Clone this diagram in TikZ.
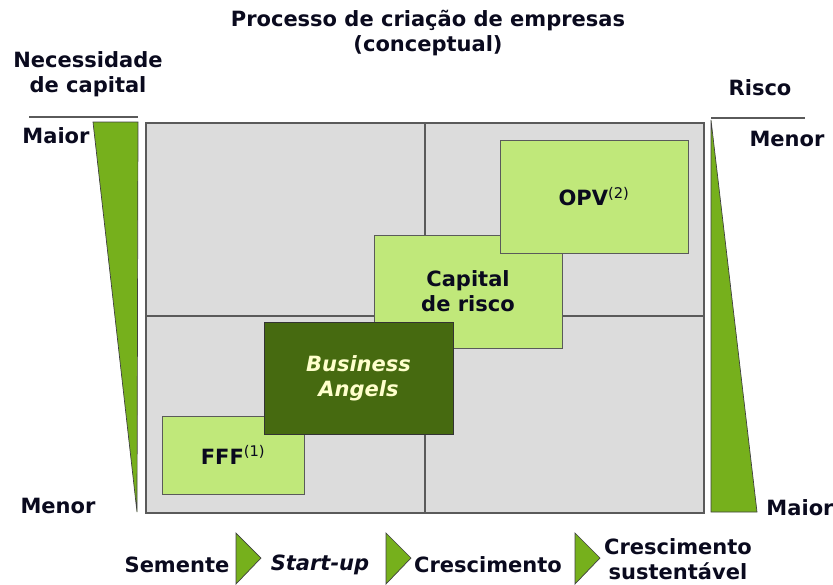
\documentclass[tikz,border=0pt]{standalone}
\usepackage{fontspec}
\setmainfont{DejaVu Sans}
\definecolor{txt}{HTML}{0A0A1E}
\definecolor{gridgray}{HTML}{DCDCDC}
\definecolor{gridline}{HTML}{5A5A5A}
\definecolor{lgreen}{HTML}{C0E87A}
\definecolor{dgreen}{HTML}{466A10}
\definecolor{tgreen}{HTML}{76B01C}
\definecolor{cream}{HTML}{FFFFCC}
\newcommand{\supnote}[1]{\textsuperscript{\mdseries #1}}
\begin{document}
\begin{tikzpicture}[x=1pt,y=-1pt,
  lbl/.style={text=txt,font=\fontsize{21}{25}\selectfont\bfseries,inner sep=0pt,align=center},
  lbox/.style={draw=gridline,line width=1pt,fill=lgreen,inner sep=0pt,text=txt,font=\fontsize{21}{25}\selectfont\bfseries,align=center},
  dbox/.style={draw=black!80,line width=1pt,fill=dgreen,inner sep=0pt,text=cream,font=\fontsize{21}{25}\selectfont\bfseries\itshape,align=center},
  tri/.style={fill=tgreen,draw=black!75,line width=0.7pt},
  gl/.style={draw=gridline,line width=1.3pt}]
\useasboundingbox (0,0) rectangle (833,584);
% grid
\draw[gl,fill=gridgray] (146,123) rectangle (704,513);
\draw[gl] (425,123) -- (425,513);
\draw[gl] (146,316) -- (704,316);
% boxes
\node[lbox,minimum width=142pt,minimum height=78pt] (fff) at (233,455) {FFF\supnote{(1)}};
\node[lbox,minimum width=188pt,minimum height=113pt] (cap) at (468,291.5) {Capital\\de risco};
\node[lbox,minimum width=188pt,minimum height=113pt] (opv) at (594,196.5) {OPV\supnote{(2)}};
\node[dbox,minimum width=189pt,minimum height=112pt] (ba) at (358.5,378) {Business\\Angels};
% title
\node[lbl] (title) at (428,33) {Processo de criação de empresas\\(conceptual)};
% left side
\node[lbl] (nec) at (88,74) {Necessidade\\de capital};
\draw[gridline,line width=1.2pt] (29,117) -- (138,117);
\fill[tri] (93,122) -- (138,122) -- (137,512) -- cycle;
\node[lbl] (lmaior) at (56,136) {Maior};
\node[lbl] (lmenor) at (58,506) {Menor};
% right side
\node[lbl] (risco) at (760,88) {Risco};
\draw[gridline,line width=1.2pt] (711,118) -- (805,118);
\fill[tri] (711,120) -- (757,512) -- (711,512) -- cycle;
\node[lbl] (rmenor) at (787,139) {Menor};
\node[lbl] (rmaior) at (800,508) {Maior};
% bottom stages
\node[lbl] (s1) at (177,565) {Semente};
\fill[tri] (236,533) -- (261,558) -- (236,584) -- cycle;
\node[lbl,font=\fontsize{21}{25}\selectfont\bfseries\itshape] (s2) at (320,565) {Start-up};
\fill[tri] (386,533) -- (411,558) -- (386,584) -- cycle;
\node[lbl] (s3) at (488,565) {Crescimento};
\fill[tri] (575,533) -- (600,558) -- (575,584) -- cycle;
\node[lbl] (s4) at (678,559) {Crescimento\\sustentável};
\end{tikzpicture}
\end{document}
